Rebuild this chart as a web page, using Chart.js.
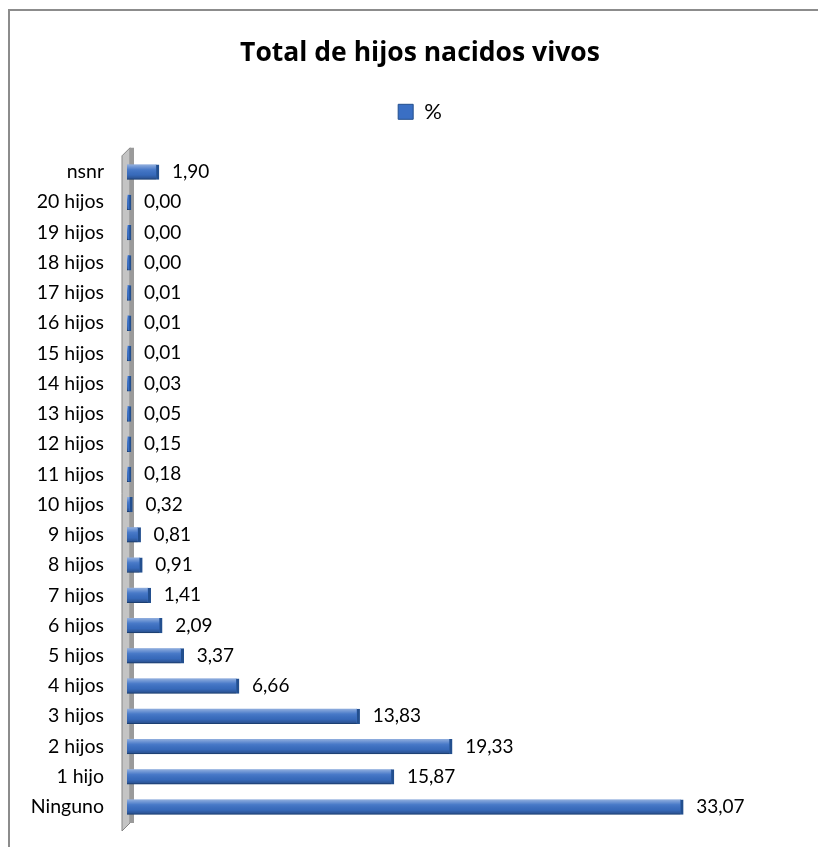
<!DOCTYPE html>
<html>
<head>
<meta charset="utf-8">
<script src="https://cdn.jsdelivr.net/npm/chart.js@4.4.0/dist/chart.umd.min.js"></script>
<style>
html, body { margin: 0; background: #fff; overflow: hidden; }
#marco { position: absolute; left: 8px; top: 9px; width: 808px; height: 836px; border-left: 2px solid #8c8c8c; border-top: 2px solid #8c8c8c; }
#caja { position: absolute; left: 0; top: 0; width: 840px; height: 847px; }
</style>
</head>
<body>
<div id="marco"></div>
<div id="caja"><canvas id="grafico"></canvas></div>
<script>
// de abajo hacia arriba, como en el original
const categorias = ['Ninguno', '1 hijo', '2 hijos', '3 hijos', '4 hijos', '5 hijos', '6 hijos',
    '7 hijos', '8 hijos', '9 hijos', '10 hijos', '11 hijos', '12 hijos', '13 hijos', '14 hijos',
    '15 hijos', '16 hijos', '17 hijos', '18 hijos', '19 hijos', '20 hijos', 'nsnr'];
const porcentajes = [33.07, 15.87, 19.33, 13.83, 6.66, 3.37, 2.09, 1.41, 0.91, 0.81, 0.32,
    0.18, 0.15, 0.05, 0.03, 0.01, 0.01, 0.01, 0.00, 0.00, 0.00, 1.90];
const nombreSerie = '%';

const azul = '#3a6fc4';
const azulOscuro = '#234f8e';
const fuente = 'Lato, "Open Sans", sans-serif';

// pared gris detrás del eje de categorías
const paredEje = {
    id: 'paredEje',
    beforeDatasetsDraw(chart) {
        const { ctx, chartArea } = chart;
        const x = chartArea.left;
        const arriba = chartArea.top - 5;
        const abajo = chartArea.bottom + 5;
        ctx.save();
        ctx.fillStyle = '#c4c4c4';
        ctx.strokeStyle = '#858585';
        ctx.lineWidth = 1;
        ctx.beginPath();
        ctx.moveTo(x - 5, arriba + 4);
        ctx.lineTo(x + 3, arriba - 4);
        ctx.lineTo(x + 3, abajo - 4);
        ctx.lineTo(x - 5, abajo + 4);
        ctx.closePath();
        ctx.fill();
        ctx.stroke();
        ctx.fillStyle = '#9a9a9a';
        ctx.beginPath();
        ctx.moveTo(x + 3, arriba - 4);
        ctx.lineTo(x + 7, arriba - 4);
        ctx.lineTo(x + 7, abajo - 4);
        ctx.lineTo(x + 3, abajo - 4);
        ctx.closePath();
        ctx.fill();
        ctx.restore();
    }
};

// brillo tipo cilindro sobre las barras y etiquetas de valor
const etiquetasValor = {
    id: 'etiquetasValor',
    afterDatasetsDraw(chart) {
        const { ctx } = chart;
        const meta = chart.getDatasetMeta(0);
        ctx.save();
        meta.data.forEach((barra) => {
            const { x, y, base, height } = barra.getProps(['x', 'y', 'base', 'height'], true);
            const arriba = y - height / 2;
            const brillo = ctx.createLinearGradient(0, arriba, 0, arriba + height);
            brillo.addColorStop(0, 'rgba(255,255,255,0.45)');
            brillo.addColorStop(0.35, 'rgba(255,255,255,0.08)');
            brillo.addColorStop(0.7, 'rgba(0,0,0,0.05)');
            brillo.addColorStop(1, 'rgba(0,0,0,0.3)');
            ctx.fillStyle = brillo;
            ctx.fillRect(base, arriba, Math.max(0, x - base - 3), height);
        });
        ctx.font = '19px ' + fuente;
        ctx.fillStyle = '#000';
        ctx.textAlign = 'left';
        ctx.textBaseline = 'middle';
        meta.data.forEach((barra, i) => {
            const texto = porcentajes[i].toFixed(2).replace('.', ',');
            ctx.fillText(texto, barra.x + 13, barra.y);
        });
        ctx.restore();
    }
};

// espacio extra entre la leyenda y el área del gráfico
const margenLeyenda = {
    id: 'margenLeyenda',
    beforeInit(chart) {
        const ajusteOriginal = chart.legend.fit;
        chart.legend.fit = function () {
            ajusteOriginal.call(this);
            this.height += 24;
        };
    }
};

new Chart(document.getElementById('grafico'), {
    type: 'bar',
    data: {
        labels: categorias,
        datasets: [{
            label: nombreSerie,
            data: porcentajes,
            backgroundColor: azul,
            borderColor: azulOscuro,
            borderWidth: { top: 0, right: 3, bottom: 1, left: 0 },
            borderSkipped: 'start',
            barThickness: 15,
            minBarLength: 4
        }]
    },
    options: {
        indexAxis: 'y',
        responsive: true,
        maintainAspectRatio: false,
        animation: false,
        layout: { padding: { left: 20, right: 20, top: 0, bottom: 25 } },
        scales: {
            x: { display: false, min: 0, max: 41.2 },
            y: {
                reverse: true,
                grid: { display: false, drawTicks: false },
                border: { display: false },
                ticks: { color: '#000', padding: 23, font: { family: fuente, size: 19.5 } },
                afterFit(scale) {
                    scale.width = 107;
                    // que el relleno de las etiquetas no recorte el área del gráfico
                    scale.paddingTop = 0;
                    scale.paddingBottom = 0;
                }
            }
        },
        plugins: {
            title: {
                display: true,
                text: 'Total de hijos nacidos vivos',
                color: '#000',
                font: { family: '"Open Sans", sans-serif', size: 26.5, weight: 'bold' },
                padding: { top: 38, bottom: 21 }
            },
            legend: {
                display: true,
                position: 'top',
                labels: {
                    color: '#000',
                    boxWidth: 15,
                    boxHeight: 15,
                    font: { family: fuente, size: 22 },
                    padding: 10
                }
            },
            tooltip: { enabled: false }
        }
    },
    plugins: [paredEje, etiquetasValor, margenLeyenda]
});
</script>
</body>
</html>
